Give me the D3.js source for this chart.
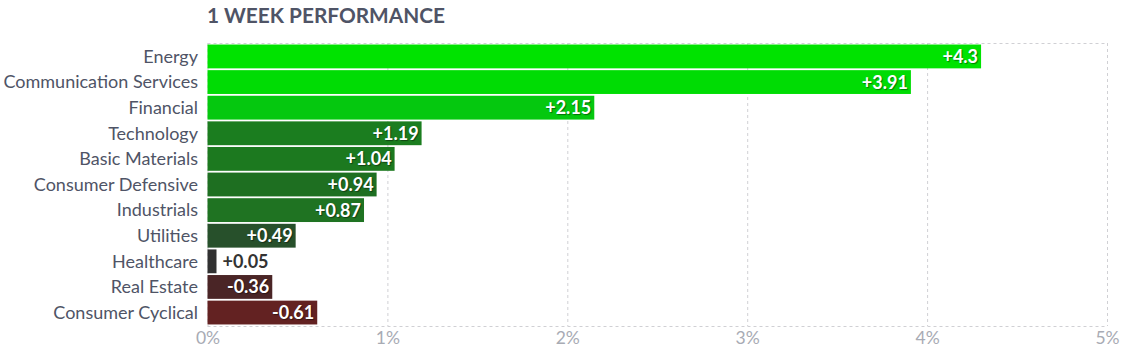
<!DOCTYPE html>
<html>
<head>
<meta charset="utf-8">
<script src="https://cdn.jsdelivr.net/npm/d3@7"></script>
<style>
  body { margin: 0; background: #fff; font-family: Lato, "Open Sans", sans-serif; }
  .grid line { stroke: #d0d0d4; stroke-dasharray: 3,3; }
  .grid path { display: none; }
  .axis_x path, .axis_x line { display: none; }
  .axis_x text { fill: #a8abb4; font-size: 17.5px; font-family: Lato, sans-serif; }
  .cat { fill: #4f5466; font-size: 18px; }
  .val { font-weight: bold; font-size: 18px; }
</style>
</head>
<body>
<div id="chart"></div>
<script>
const sectors = ["Energy", "Communication Services", "Financial", "Technology", "Basic Materials",
  "Consumer Defensive", "Industrials", "Utilities", "Healthcare", "Real Estate", "Consumer Cyclical"];
const changes = [4.3, 3.91, 2.15, 1.19, 1.04, 0.94, 0.87, 0.49, 0.05, -0.36, -0.61];
const barColors = ["#00e300", "#00dc04", "#05c80f", "#1b7d1f", "#1c791f", "#1e6f21", "#1f7322",
  "#27502b", "#313131", "#4a2526", "#632222"];
const xTicks = [0, 1, 2, 3, 4, 5];

const width = 1126, height = 353;
const margin = {top: 43, left: 207.5, right: 19, bottom: 27};
const plotW = width - margin.left - margin.right;
const plotH = height - margin.top - margin.bottom;

const svg = d3.select("#chart").append("svg")
    .attr("width", width)
    .attr("height", height);

svg.append("text")
    .attr("x", 207)
    .attr("y", 23)
    .attr("fill", "#4f5466")
    .style("font-size", "20.8px")
    .style("font-weight", "bold")
    .text("1 WEEK PERFORMANCE");

const g = svg.append("g")
    .attr("transform", "translate(" + margin.left + "," + margin.top + ")");

const x = d3.scaleLinear().domain([0, 5]).range([0, plotW]);
const y = d3.scaleBand().domain(sectors).range([0, plotH]).paddingInner(0.07).paddingOuter(0.06);

// grid
g.append("g").attr("class", "grid")
    .call(d3.axisBottom(x).tickValues(xTicks).tickSize(plotH).tickFormat(""));
g.append("line")
    .attr("x1", 0).attr("x2", plotW).attr("y1", 0.5).attr("y2", 0.5)
    .attr("stroke", "#d0d0d4").attr("stroke-dasharray", "3,3");
g.append("line")
    .attr("x1", 0).attr("x2", plotW).attr("y1", plotH + 0.5).attr("y2", plotH + 0.5)
    .attr("stroke", "#d0d0d4").attr("stroke-dasharray", "3,3");

g.append("g").attr("class", "axis_x")
    .attr("transform", "translate(0," + (plotH + 3) + ")")
    .call(d3.axisBottom(x).tickValues(xTicks).tickSize(0).tickFormat(d => d + "%"));

const rows = sectors.map((s, i) => ({name: s, v: changes[i], c: barColors[i]}));

g.selectAll("rect.bar").data(rows).enter().append("rect")
    .attr("class", "bar")
    .attr("x", 0)
    .attr("y", d => y(d.name))
    .attr("width", d => x(Math.abs(d.v)))
    .attr("height", y.bandwidth())
    .attr("fill", d => d.c);

svg.selectAll("text.cat").data(rows).enter().append("text")
    .attr("class", "cat")
    .attr("x", 198)
    .attr("y", d => margin.top + y(d.name) + y.bandwidth() / 2)
    .attr("dy", "0.35em")
    .attr("text-anchor", "end")
    .text(d => d.name);

const fmt = v => (v > 0 ? "+" : "") + v;
g.selectAll("text.val").data(rows).enter().append("text")
    .attr("class", "val")
    .attr("y", d => y(d.name) + y.bandwidth() / 2)
    .attr("dy", "0.36em")
    .each(function(d) {
      const w = x(Math.abs(d.v));
      const t = d3.select(this).text(fmt(d.v));
      if (w > 50) {
        t.attr("x", w - 3).attr("text-anchor", "end").attr("fill", "#fff")
          .style("text-shadow", "1px 1px 1px rgba(0,0,0,0.45)");
      } else {
        t.attr("x", w + 6).attr("text-anchor", "start").attr("fill", "#333");
      }
    });
</script>
</body>
</html>
